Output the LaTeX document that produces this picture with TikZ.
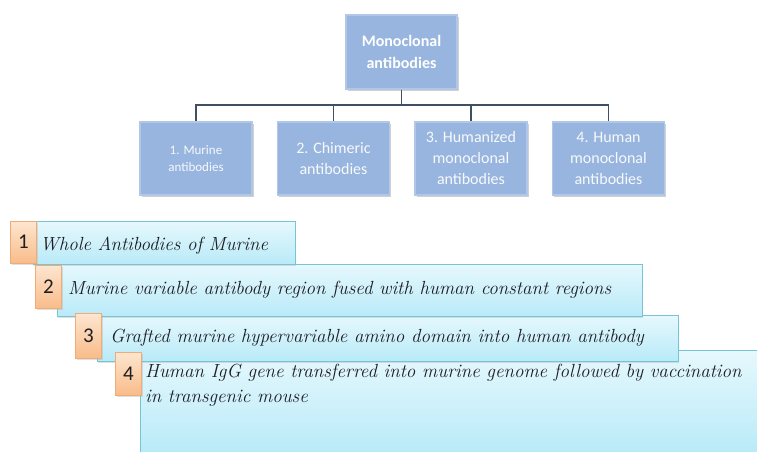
\documentclass[tikz,border=0pt]{standalone}
\usepackage{fontspec}
\newfontfamily\calibri{Carlito}
\usetikzlibrary{positioning,shadows}
\definecolor{boxblue}{RGB}{151,181,222}
\definecolor{boxedge}{RGB}{176,199,231}
\definecolor{connline}{RGB}{62,80,97}
\definecolor{bartop}{RGB}{230,248,253}
\definecolor{barbot}{RGB}{184,234,248}
\definecolor{barline}{RGB}{118,196,212}
\definecolor{numtop}{RGB}{253,230,208}
\definecolor{numbot}{RGB}{249,188,138}
\definecolor{numline}{RGB}{240,172,118}
\definecolor{textdark}{RGB}{30,30,34}
\tikzset{
  topbox/.style={draw=boxedge, line width=1.5pt, fill=boxblue, minimum width=111pt, minimum height=74pt,
    text=white, align=center, font=\calibri\bfseries\fontsize{16}{22}\selectfont,
    drop shadow={shadow xshift=1.5pt, shadow yshift=-2pt, fill=black!40, opacity=.45}},
  typebox/.style={draw=boxedge, line width=1.5pt, fill=boxblue, minimum width=112pt, minimum height=73pt,
    text=white!92!boxblue, align=center, font=\calibri\fontsize{16}{21}\selectfont,
    drop shadow={shadow xshift=1.5pt, shadow yshift=-2pt, fill=black!40, opacity=.45}},
  conn/.style={draw=connline, line width=1.5pt},
  listbar/.style={draw=barline, line width=.8pt, top color=bartop, bottom color=barbot, anchor=north west,
    inner sep=0pt, drop shadow={shadow xshift=1pt, shadow yshift=-1.5pt, fill=black!30, opacity=.4}},
  numbox/.style={draw=numline, line width=.6pt, top color=numtop, bottom color=numbot, minimum width=26pt,
    inner sep=0pt, text=textdark, font=\calibri\fontsize{21}{24}\selectfont,
    drop shadow={shadow xshift=1pt, shadow yshift=-1.5pt, fill=black!30, opacity=.4}},
  listtext/.style={anchor=base west, inner sep=0pt, align=left, text=textdark,
    font=\itshape\fontsize{19}{25}\selectfont}
}

\begin{document}
\begin{tikzpicture}[x=1pt,y=-1pt]
\useasboundingbox[fill=white] (0,0) rectangle (757,452);
\node[topbox] (top) at (401.5,52) {Monoclonal\\antibodies};
\node[typebox, font=\calibri\fontsize{13}{17}\selectfont] (m1) at (196,158.5) {1. Murine\\antibodies};
\node[typebox] (m2) [right=24pt of m1] {2. Chimeric\\antibodies};
\node[typebox] (m3) [right=24pt of m2] {3. Humanized\\monoclonal\\antibodies};
\node[typebox] (m4) [right=24pt of m3] {4. Human\\monoclonal\\antibodies};
\foreach \i in {1,...,4}
  \draw[conn] (top.south) -- ++(0,15) -| (m\i.north);

\node[listbar, minimum width=620pt, minimum height=105pt] (bar4) at (140,350) {};
\node[listbar, minimum width=581pt, minimum height=46pt] (bar3) at (97,315) {};
\node[listbar, minimum width=585pt, minimum height=52pt] (bar2) at (57,264) {};
\node[listbar, minimum width=262pt, minimum height=43pt] (bar1) at (33,221) {};
\node[numbox, minimum height=42pt] (n1) at (23.5,242) {1};
\node[numbox, minimum height=43pt] (n2) at (48.5,286.5) {2};
\node[numbox, minimum height=45pt] (n3) at (88.5,335.5) {3};
\node[numbox, minimum height=43pt] (n4) at (128.5,373.5) {4};
\node[listtext] (t1) at (40,250) {Whole Antibodies of Murine};
\node[listtext] (t2) at (68,294) {Murine variable antibody region fused with human constant regions};
\node[listtext] (t3) at (110,342) {Grafted murine hypervariable amino domain into human antibody};
\node[listtext] (t4) at (145,402) {Human IgG gene transferred into murine genome followed by vaccination\\in transgenic mouse};
\end{tikzpicture}
\end{document}
